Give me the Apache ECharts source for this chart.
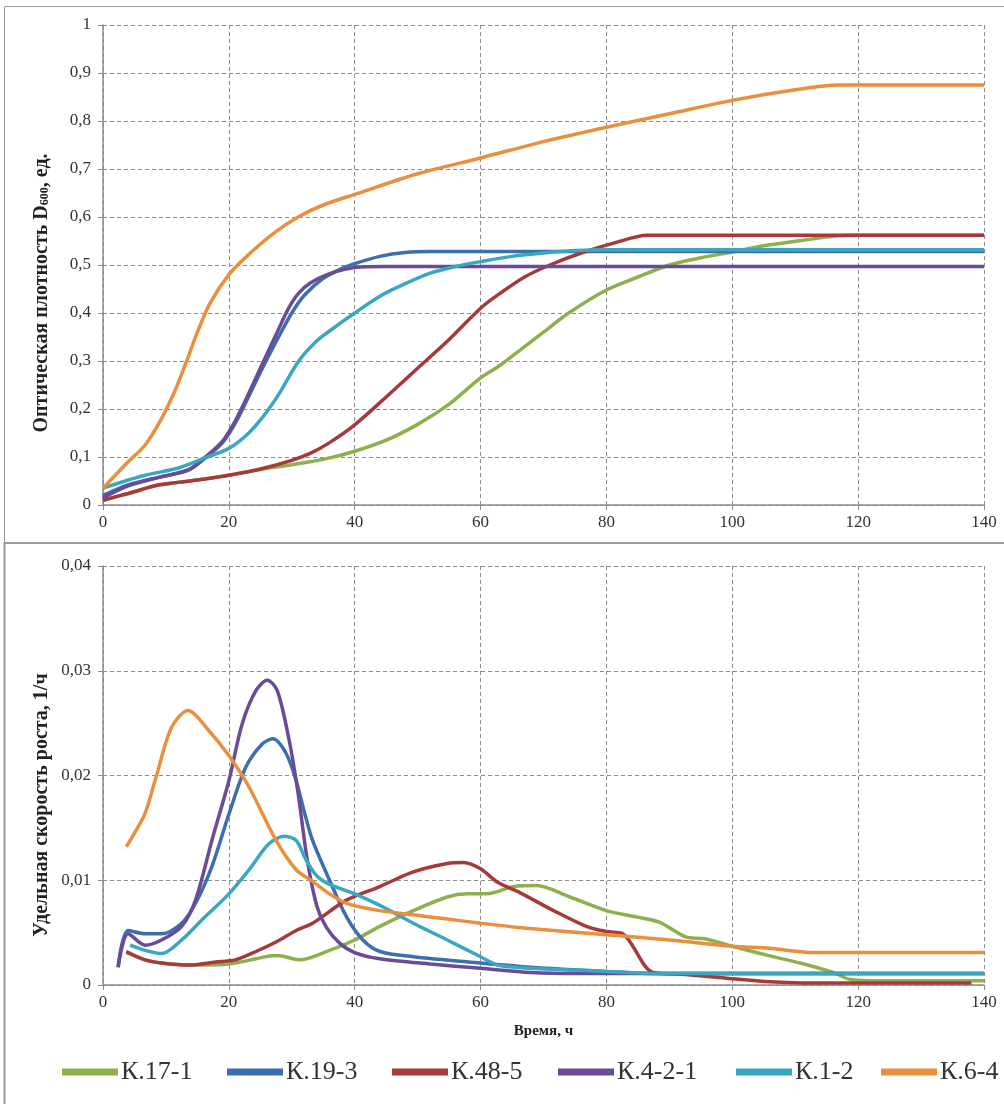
<!DOCTYPE html>
<html>
<head>
<meta charset="utf-8">
<script src="https://cdn.jsdelivr.net/npm/echarts@6/dist/echarts.min.js"></script>
<style>
  html, body { margin: 0; padding: 0; background: #fff; }
  #chart { width: 1004px; height: 1104px; }
</style>
</head>
<body>
<div id="chart"></div>
<script>
// серии (порядок как в легенде)
const seriesNames = ["К.17-1", "К.19-3", "К.48-5", "К.4-2-1", "К.1-2", "К.6-4"];
const seriesColors = ["#8db04c", "#3d6fae", "#a63a3b", "#6a4b98", "#3aa7c1", "#ea8f3d"];

// верхний график: оптическая плотность [время, D600]
const odK17_1 = [[0,0.01],[4,0.024],[9,0.042],[15,0.052],[20,0.062],[25,0.074],[30,0.084],[35,0.095],[40,0.112],[45,0.135],[50,0.168],[55,0.21],[60,0.265],[63,0.29],[67,0.33],[70,0.36],[74,0.4],[80,0.448],[85,0.475],[90,0.5],[95,0.515],[100,0.527],[105,0.54],[111,0.551],[116,0.56],[120,0.562],[130,0.562],[140,0.562]];
const odK19_3 = [[0,0.02],[4,0.042],[9,0.058],[13.5,0.072],[16,0.095],[19,0.13],[21,0.17],[23,0.222],[25,0.276],[27.5,0.34],[30,0.4],[32,0.437],[35,0.472],[38,0.493],[40,0.503],[44,0.518],[48,0.526],[52,0.528],[70,0.528],[100,0.528],[140,0.528]];
const odK48_5 = [[0,0.01],[4,0.024],[9,0.042],[15,0.052],[20,0.062],[25,0.075],[30,0.093],[33,0.108],[36,0.13],[40,0.167],[45,0.225],[50,0.285],[55,0.345],[60,0.41],[63,0.44],[67,0.475],[71,0.5],[76,0.525],[81,0.545],[86.5,0.562],[100,0.562],[120,0.562],[140,0.562]];
const odK4_2_1 = [[0,0.015],[4,0.04],[9,0.058],[13.5,0.073],[16,0.097],[19,0.133],[21,0.175],[23,0.228],[25,0.285],[27.5,0.355],[29.5,0.41],[31,0.44],[33,0.463],[36.7,0.485],[40,0.495],[45,0.497],[60,0.497],[100,0.497],[140,0.497]];
const odK1_2 = [[0,0.035],[4,0.052],[7,0.063],[12,0.077],[16,0.097],[20,0.118],[23,0.148],[25.5,0.185],[28,0.232],[31,0.298],[34,0.342],[37,0.372],[40,0.4],[44,0.435],[47,0.455],[52,0.483],[56,0.497],[60,0.507],[65,0.518],[70,0.525],[75,0.53],[80,0.532],[100,0.532],[140,0.532]];
const odK6_4 = [[0,0.035],[4,0.09],[6.7,0.125],[9.3,0.18],[11.5,0.24],[13.3,0.3],[15,0.36],[17,0.42],[20,0.48],[23,0.52],[27,0.565],[31,0.6],[35,0.625],[40,0.647],[50,0.69],[60,0.723],[70,0.757],[80,0.787],[90,0.815],[100,0.843],[110,0.865],[117,0.875],[125,0.875],[140,0.875]];

// нижний график: удельная скорость роста [время, 1/ч]
const muK17_1 = [[3.7,0.0031],[6.7,0.0024],[9.3,0.0021],[13.6,0.0019],[15.7,0.0019],[20,0.002],[24.3,0.0025],[26.9,0.0028],[28,0.0028],[31.2,0.0024],[36,0.0033],[40,0.0043],[44,0.0056],[49.3,0.0071],[54.7,0.0084],[57.9,0.0087],[61,0.0087],[65.3,0.0094],[68.9,0.0095],[74.2,0.0084],[80,0.0071],[84.7,0.0065],[88.4,0.006],[92.6,0.0046],[95.8,0.0044],[100,0.0037],[105.8,0.0028],[110.8,0.0021],[116,0.0012],[119,0.0005],[125,0.0004],[140,0.0004]];
const muK19_3 = [[2.4,0.0017],[4,0.0052],[6.7,0.0049],[9.3,0.0049],[12.5,0.0059],[14.7,0.0078],[17.3,0.0113],[20,0.0163],[22.7,0.0208],[25.3,0.023],[27,0.0235],[29.1,0.0221],[30.7,0.0195],[32,0.0165],[33.3,0.0138],[36,0.01],[38.7,0.0065],[41.3,0.0043],[44,0.0032],[49.3,0.0027],[60,0.0021],[68,0.0017],[80,0.0013],[88,0.0011],[110,0.0011],[140,0.0011]];
const muK48_5 = [[3.7,0.0032],[6.7,0.0024],[9.3,0.0021],[13.6,0.0019],[17.9,0.0022],[21,0.0024],[24.3,0.0032],[27.5,0.0041],[30.7,0.0052],[33.3,0.0059],[38.7,0.0081],[44,0.0094],[49.3,0.0108],[54.7,0.0116],[57.3,0.0117],[60,0.0111],[62.7,0.0098],[66.3,0.0088],[71.6,0.0071],[76.8,0.0056],[80,0.0051],[82.6,0.0049],[87.4,0.0012],[92.6,0.001],[100,0.0006],[106,0.0003],[111,0.0002],[138,0.0002]];
const muK4_2_1 = [[2.4,0.0017],[4,0.0049],[6.7,0.0038],[9.3,0.0043],[12.5,0.0056],[14.7,0.0081],[17.3,0.0138],[20,0.0195],[22.1,0.0249],[24.3,0.0281],[26.1,0.0291],[27.7,0.0281],[29.6,0.0233],[31,0.0183],[32.5,0.0118],[34,0.0075],[35.5,0.0055],[37.6,0.004],[40,0.0031],[44,0.0025],[52,0.002],[60,0.0016],[68,0.0012],[75,0.0011],[110,0.0011],[140,0.0011]];
const muK1_2 = [[4.3,0.0038],[6.7,0.0033],[9.3,0.003],[12.5,0.0043],[15.7,0.0062],[20,0.0087],[23.2,0.011],[26.4,0.0135],[28.8,0.0142],[30.7,0.0138],[32.3,0.0119],[34,0.0104],[36,0.0096],[40,0.0087],[44,0.0076],[49.3,0.0059],[54.7,0.0043],[60,0.0027],[62.7,0.0019],[68,0.0016],[80,0.0013],[88,0.0011],[110,0.0011],[140,0.0011]];
const muK6_4 = [[3.7,0.0132],[5,0.0145],[6.7,0.0164],[8.5,0.02],[10.9,0.0246],[13.5,0.0262],[16.8,0.0243],[20,0.0219],[23.2,0.0189],[27.5,0.0138],[30.7,0.011],[33.3,0.0099],[36,0.0087],[38.7,0.0078],[44,0.0071],[49.3,0.0067],[54.7,0.0063],[60,0.0059],[66,0.0055],[80,0.0048],[90,0.0043],[100,0.0037],[106,0.0035],[113,0.0031],[120,0.0031],[140,0.0031]];

const topData = [odK17_1, odK19_3, odK48_5, odK4_2_1, odK1_2, odK6_4];
const bottomData = [muK17_1, muK19_3, muK48_5, muK4_2_1, muK1_2, muK6_4];

const serif = "Liberation Serif, Times New Roman, serif";
const comma = (v) => String(+(+v).toFixed(3)).replace(".", ",");
const gray = "#8c8c8c";

function xAxisCfg(gridIndex, name) {
    return {
        gridIndex: gridIndex,
        type: "value",
        min: 0, max: 140, interval: 20,
        name: name,
        nameLocation: "middle",
        nameGap: 39,
        nameTextStyle: { fontFamily: serif, fontSize: 15, fontWeight: "bold", color: "#222" },
        axisLine: { lineStyle: { color: gray, width: 1.5 } },
        axisTick: { show: true, length: 5, lineStyle: { color: gray } },
        axisLabel: { fontFamily: serif, fontSize: 17, color: "#333", margin: 9 },
        splitLine: { show: true, lineStyle: { color: gray, type: [4, 3], width: 1 } }
    };
}

function yAxisCfg(gridIndex, max, interval) {
    return {
        gridIndex: gridIndex,
        type: "value",
        min: 0, max: max, interval: interval,
        axisLine: { show: true, lineStyle: { color: gray, width: 1.5 } },
        axisTick: { show: true, length: 5, lineStyle: { color: gray } },
        axisLabel: { fontFamily: serif, fontSize: 17, color: "#333", margin: 12, formatter: comma },
        splitLine: { show: true, lineStyle: { color: gray, type: [4, 3], width: 1 } }
    };
}

function lineSeries(data, i, axisIdx) {
    return {
        name: seriesNames[i],
        type: "line",
        xAxisIndex: axisIdx,
        yAxisIndex: axisIdx,
        data: data,
        smooth: 0.3,
        showSymbol: false,
        symbol: "none",
        lineStyle: { width: 3.5, color: seriesColors[i] },
        itemStyle: { color: seriesColors[i] },
        emphasis: { disabled: true }
    };
}

// подписи осей Y (повёрнутый текст)
function yTitle(text, x, y) {
    return {
        type: "text",
        x: x, y: y,
        rotation: Math.PI / 2,
        style: {
            text: text,
            align: "center",
            verticalAlign: "middle",
            font: "bold 20px " + serif,
            fill: "#222",
            rich: {
                t: { font: "bold 20px " + serif, fill: "#222" },
                s: { font: "bold 12px " + serif, fill: "#222", padding: [6, 0, 0, 0] }
            }
        }
    };
}

// позиции элементов легенды
const legendLeft = [57, 222, 387, 553, 731, 876];

var myChart = echarts.init(document.getElementById("chart"));
myChart.setOption({
    animation: false,
    backgroundColor: "#fff",
    graphic: [
        { type: "rect", shape: { x: 4.5, y: 6.5, width: 1010, height: 536 }, style: { fill: "none", stroke: "#9a9a9a", lineWidth: 1 } },
        { type: "rect", shape: { x: 4.5, y: 543, width: 1010, height: 570 }, style: { fill: "none", stroke: "#9a9a9a", lineWidth: 2 } },
        yTitle("{t|Оптическая плотность D}{s|600}{t|, ед.}", 42, 293),
        yTitle("Удельная скорость роста, 1/ч", 42, 805)
    ],
    grid: [
        { left: 103, top: 25, width: 881, height: 480 },
        { left: 103, top: 566, width: 881, height: 419 }
    ],
    xAxis: [xAxisCfg(0, ""), xAxisCfg(1, "Время, ч")],
    yAxis: [yAxisCfg(0, 1, 0.1), yAxisCfg(1, 0.04, 0.01)],
    legend: seriesNames.map((n, i) => ({
        data: [n],
        left: legendLeft[i],
        top: 1054,
        icon: "rect",
        itemWidth: 56,
        itemHeight: 7,
        itemGap: 0,
        selectedMode: false,
        textStyle: { fontFamily: serif, fontSize: 26, color: "#333", padding: [0, 0, 0, -2] }
    })),
    series: topData.map((d, i) => lineSeries(d, i, 0))
        .concat(bottomData.map((d, i) => lineSeries(d, i, 1)))
});
</script>
</body>
</html>
